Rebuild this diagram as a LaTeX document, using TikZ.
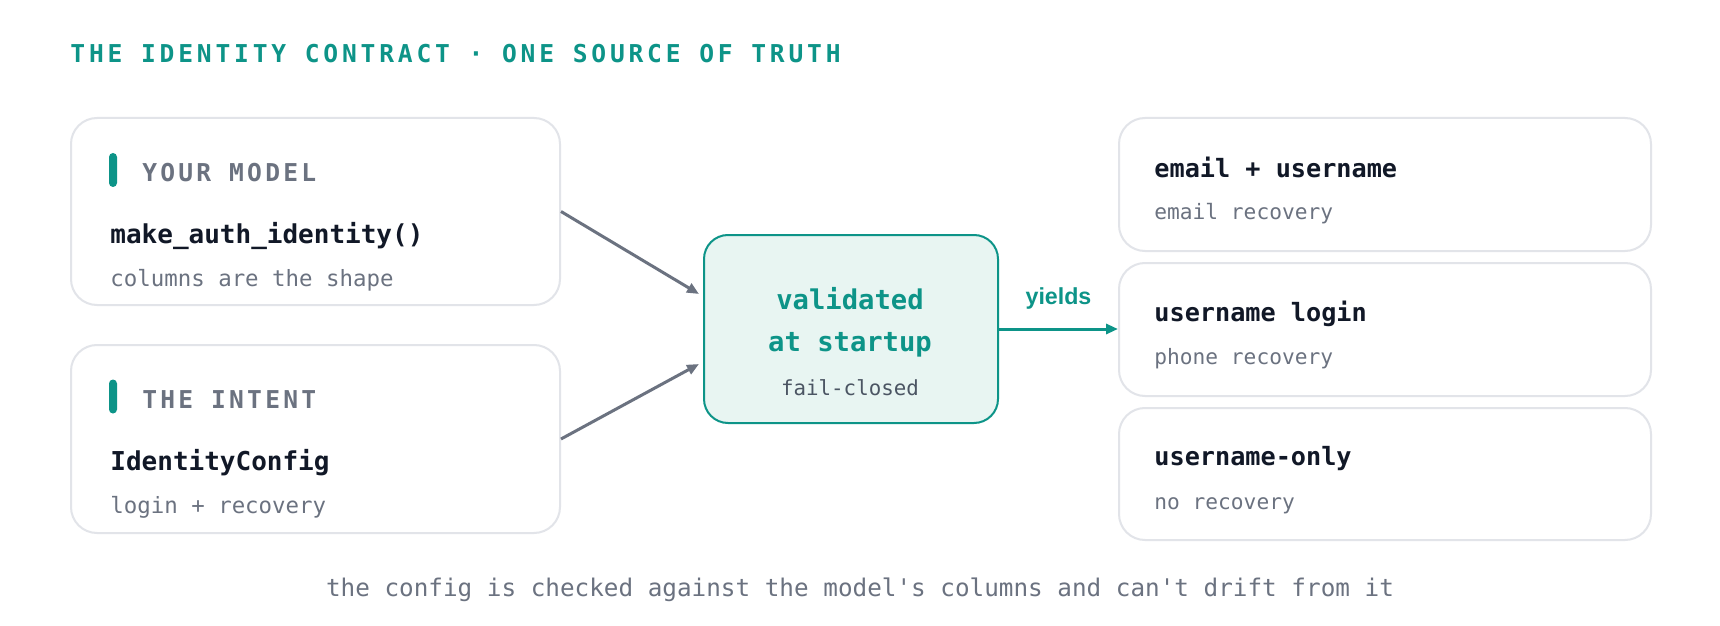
\documentclass[tikz,border=0pt]{standalone}
\usepackage{fontspec}
\setmainfont{DejaVu Sans Mono}[Ligatures=TeXOff]
\setsansfont{Liberation Sans}
\newfontfamily\trackfont[LetterSpace=15.5]{DejaVu Sans Mono}
\newfontfamily\capsfont[LetterSpace=13]{DejaVu Sans Mono}
\usetikzlibrary{arrows.meta, positioning}

\definecolor{accent}{HTML}{0D9488}
\definecolor{hubfill}{HTML}{E8F5F2}
\definecolor{muted}{HTML}{6B7280}
\definecolor{ink}{HTML}{111827}
\definecolor{cardline}{HTML}{E2E4E9}
\definecolor{softink}{HTML}{4B5563}

\begin{document}
\begin{tikzpicture}[x=0.5pt, y=-0.5pt,
  card/.style={draw=cardline, line width=1pt, fill=white, rounded corners=13pt,
               anchor=north west, inner sep=0pt},
  bar/.style={fill=accent, rounded corners=2pt, minimum width=4pt,
              minimum height=17pt, inner sep=0pt},
  tag/.style={anchor=west, inner sep=0pt, text=muted,
              font=\capsfont\bfseries\fontsize{12.3}{14}\selectfont},
  head/.style={anchor=west, inner sep=0pt, text=ink,
               font=\bfseries\fontsize{13}{15}\selectfont},
  note/.style={anchor=west, inner sep=0pt, text=muted,
               font=\fontsize{11.2}{13}\selectfont},
  outhead/.style={head, font=\bfseries\fontsize{12.6}{14}\selectfont},
  outnote/.style={note, font=\fontsize{10.6}{12}\selectfont},
  feed/.style={-{Triangle[length=6pt, width=5pt]}, line width=1.5pt, draw=muted},
]
  % Canvas
  \useasboundingbox[fill=white] (0,0) rectangle (1720,626);

  % Title
  \node[anchor=west, inner sep=0pt, text=accent,
        font=\trackfont\bfseries\fontsize{12.3}{14}\selectfont] (title) at (70,54)
    {THE IDENTITY CONTRACT · ONE SOURCE OF TRUTH};

  % Left cards
  \node[card, minimum width=244.5pt, minimum height=93.5pt] (model) at (70,117) {};
  \node[bar] (modelbar) at (113,170) {};
  \node[tag] (modeltag) at (142,173) {YOUR MODEL};
  \node[head] (modelhead) at (110,236) {make\_auth\_identity()};
  \node[note] (modelnote) at (110,280) {columns are the shape};

  \node[card, minimum width=244.5pt, minimum height=94pt] (intent) at (70,344) {};
  \node[bar] (intentbar) at (113,396.5) {};
  \node[tag] (intenttag) at (142,400) {THE INTENT};
  \node[head] (intenthead) at (110,463) {IdentityConfig};
  \node[note] (intentnote) at (110,507) {login + recovery};

  % Validation hub
  \node[card, draw=accent, fill=hubfill, rounded corners=12pt,
        minimum width=147pt, minimum height=94pt] (hub) at (703,234) {};
  \node[align=center, inner sep=0pt, text=accent,
        font=\bfseries\fontsize{13.6}{21}\selectfont] (hubhead) at (850,322)
    {validated\\at startup};
  \node[inner sep=0pt, text=softink, font=\fontsize{10.4}{12}\selectfont]
    (hubnote) at (850,388) {fail-closed};

  % Right cards
  \node[card, minimum width=266pt, minimum height=66.5pt] (both) at (1118,117) {};
  \node[outhead] (bothhead) at (1154,167) {email + username};
  \node[outnote] (bothnote) at (1154,214) {email recovery};

  \node[card, minimum width=266pt, minimum height=66.5pt] (login) at (1118,262) {};
  \node[outhead] (loginhead) at (1154,314) {username login};
  \node[outnote] (loginnote) at (1154,359) {phone recovery};

  \node[card, minimum width=266pt, minimum height=66pt] (only) at (1118,407) {};
  \node[outhead] (onlyhead) at (1154,459) {username-only};
  \node[outnote] (onlynote) at (1154,506) {no recovery};

  % Connectors
  \draw[feed] (model.east) -- ([xshift=-2pt, yshift=17.5pt]hub.west);
  \draw[feed] (intent.east) -- ([xshift=-2pt, yshift=-17.5pt]hub.west);
  \draw[-{Triangle[length=6pt, width=5pt]}, line width=1.5pt, accent]
    (hub.east) -- node[above=9pt, inner sep=0pt, text=accent,
                       font=\sffamily\bfseries\fontsize{11.6}{13}\selectfont] (yields) {yields}
    (hub.east -| login.west);

  % Footer
  \node[inner sep=0pt, text=muted, font=\fontsize{12.15}{14}\selectfont] (footer) at (860,590)
    {the config is checked against the model's columns and can't drift from it};
\end{tikzpicture}
\end{document}
